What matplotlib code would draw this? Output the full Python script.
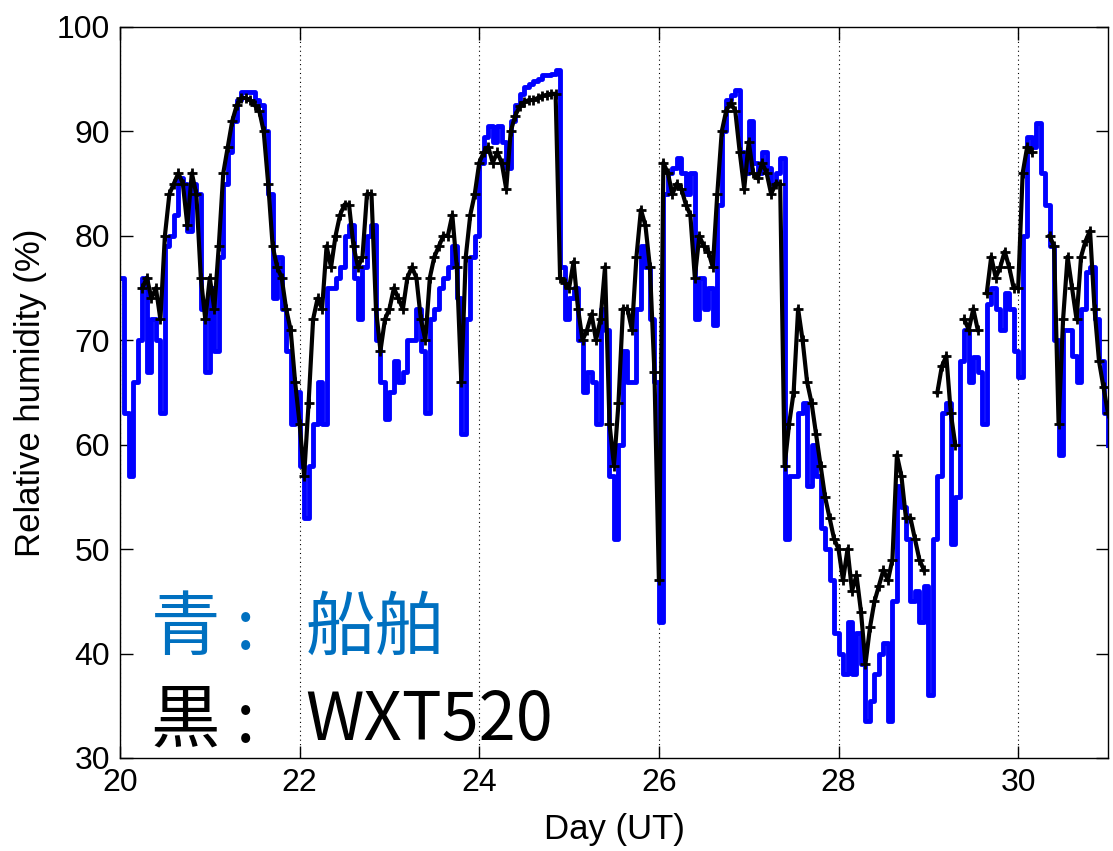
import numpy as np
import matplotlib
matplotlib.use('Agg')
import matplotlib.pyplot as plt

# time axis (day of month, UT), sampled every 0.05 day
day = np.round(np.arange(20.0, 31.0001, 0.05), 2)

# ship humidity (blue)
ship = [76, 63, 57, 66, 70, 76, 67, 72, 70, 63,
        79, 80, 82, 85.5, 85, 80.5, 85, 84, 73, 67,
        75, 69, 78, 85, 88, 91, 93, 93.8, 93.8, 93.8,
        93, 92.5, 90, 84, 74, 78, 73, 69, 62, 65,
        58, 53, 58, 62, 66, 62, 75, 75, 76, 77,
        80, 81, 76, 72, 77, 80, 81, 70, 66, 62.5,
        65, 68, 66, 67, 70, 70, 73, 69, 63, 72,
        73, 75, 76, 77, 79, 74, 61, 72, 78, 80,
        87, 89.5, 90.5, 89, 90.5, 89, 86.5, 91, 92.5, 93.6,
        94.3, 94.5, 94.8, 95, 95.4, 95.4, 95.5, 95.9, 77, 72,
        74, 75, 70, 65, 67, 66, 62, 73, 71, 57,
        51, 60, 69, 66, 66, 73, 79, 77, 72, 66,
        43, 84, 86, 86.5, 87.5, 86, 84, 86, 72, 76,
        73, 75, 71.5, 83, 90, 93, 93.5, 94, 88, 86,
        91, 87, 86, 88, 86.5, 85, 86, 87.5, 51, 57,
        57, 63, 64, 56, 60, 57, 52, 50, 47, 42,
        40, 38, 43, 38, 42, 39, 33.5, 35.5, 38, 40,
        41, 33.5, 45, 56, 54, 51, 45, 46, 43, 46.5,
        36, 51, 57, 63, 64, 50.5, 55, 68, 71, 66,
        68.4, 67, 62, 73.5, 75, 73, 71, 74.5, 73, 69,
        66.5, 80, 89.5, 88.5, 90.8, 86, 83, 79, 70, 59,
        71, 71, 68.5, 66, 73, 76.5, 77, 72, 68, 63,
        60]

# WXT520 humidity (black), nan where no reading
wxt = [np.nan, np.nan, np.nan, np.nan, np.nan, 75, 76, 74, 75, 72,
       80, 84, 85, 86, 85, 81, 86, 84, 76, 72,
       76, 73, 79, 86, 88.5, 91, 92.5, 93.2, 93.2, 93,
       92.5, 92, 90, 85, 79, 77, 76, 73, 71, 66,
       62, 57, 64, 72, 74, 73, 79, 77, 80, 82,
       83, 83, 79, 77, 78, 84, 84, 73, 69, 72,
       73, 75, 74, 73, 76, 77, 76, 72, 70, 76,
       78, 79, 80, 80, 82, 77, 66, 78, 82, 84,
       87, 88, 88.5, 87, 88, 87, 84.5, 90, 91.5, 92.4,
       92.8, 93, 93, 93.2, 93.4, 93.5, 93.6, 93.6, 76, 75.5,
       75, 77.5, 73, 70, 71, 72.5, 70, 72, 77, 62,
       58, 64, 73, 73, 71, 78, 82.5, 81, 77, 67,
       47, 87, 86, 84, 85, 84.5, 83, 82, 76, 80,
       79, 78.5, 77, 84, 90, 92, 92.7, 92, 88, 84.5,
       89, 86, 85.5, 87, 86, 84, 85, 85, 58, 62,
       65, 73, 70, 66, 64, 61, 58, 55, 53, 51,
       50, 47, 50, 46, 47.5, 44, 39, 42.5, 45, 46.5,
       48, 47, 49, 59, 57, 53, 53, 51, 49, 48,
       np.nan, np.nan, 65, 67.5, 68.5, 63, 60, np.nan, 72, 71,
       73, 71, np.nan, 74.5, 78, 76, 77, 78.5, 77, 75,
       75, 86, 88.5, 88, np.nan, np.nan, np.nan, 80, 79, 62,
       72, 78, 75, 72, 78, 79.5, 80.5, 73, 68, 65.5,
       63]

xticks = [20, 22, 24, 26, 28, 30]
yticks = [30, 40, 50, 60, 70, 80, 90, 100]

fig = plt.figure(figsize=(11.13, 8.51), dpi=100)
ax = fig.add_axes([0.1078, 0.1093, 0.8877, 0.859])

ax.plot(day, ship, color='#0000ff', lw=3.5, drawstyle='steps-post', zorder=2)
ax.plot(day, wxt, color='black', lw=3, marker='+', ms=7, mew=2, zorder=3)

ax.set_xlim(20, 31)
ax.set_ylim(30, 100)
ax.set_xticks(xticks)
ax.set_yticks(yticks)
ax.tick_params(direction='in', length=9, width=1, top=True, right=True,
               labelsize=23, pad=7)
for lab in ax.get_xticklabels() + ax.get_yticklabels():
    lab.set_family('Liberation Sans')
ax.grid(axis='x', color='black', ls=(0, (1, 3)), lw=0.8)
for s in ax.spines.values():
    s.set_linewidth(1)

ax.set_xlabel('Day (UT)', fontsize=25, family='Liberation Sans', labelpad=11)
ax.set_ylabel('Relative humidity (%)', fontsize=25, family='Liberation Sans', labelpad=7)

jp = ['Noto Sans CJK JP', 'DejaVu Sans']
ax.text(0.031, 0.176, '青 :', color='#0070c0', fontsize=50, family=jp,
        transform=ax.transAxes, va='center', ha='left')
ax.text(0.188, 0.176, '船舶', color='#0070c0', fontsize=50, family=jp,
        transform=ax.transAxes, va='center', ha='left')
ax.text(0.031, 0.05, '黒 :', color='black', fontsize=50, family=jp,
        transform=ax.transAxes, va='center', ha='left')
ax.text(0.188, 0.05, 'WXT520', color='black', fontsize=48, family=jp,
        transform=ax.transAxes, va='center', ha='left')

fig.savefig('out.png', dpi=100)
